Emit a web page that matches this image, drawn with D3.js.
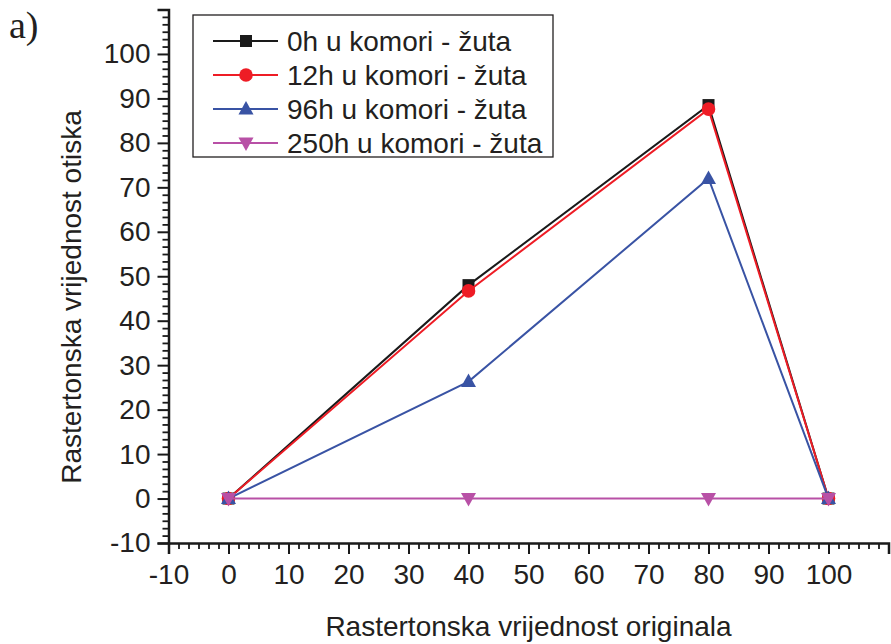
<!DOCTYPE html>
<html><head><meta charset="utf-8">
<script src="https://cdn.jsdelivr.net/npm/d3@7"></script>
<style>
html,body{margin:0;padding:0;background:#fff;}
svg{display:block;font-family:"Liberation Sans",Arial,sans-serif;}
</style></head>
<body>
<svg id="c" width="891" height="644"></svg>
<script>
const xValues = [0, 40, 80, 100];
const series0h = [0, 48, 88.5, 0];
const series12h = [0, 46.7, 87.6, 0];
const series96h = [0, 26.3, 72, 0];
const series250h = [0, 0, 0, 0];
const seriesNames = ["0h u komori - žuta", "12h u komori - žuta", "96h u komori - žuta", "250h u komori - žuta"];
const seriesColors = ["#1a1a1a", "#ee1c25", "#3953a4", "#b850a6"];
const seriesSymbols = ["square", "circle", "triangle", "triangleDown"];
const xTicks = [-10, 0, 10, 20, 30, 40, 50, 60, 70, 80, 90, 100];
const yTicks = [-10, 0, 10, 20, 30, 40, 50, 60, 70, 80, 90, 100];
const xTitle = "Rastertonska vrijednost originala";
const yTitle = "Rastertonska vrijednost otiska";
const panelLabel = "a)";

const allSeries = [series0h, series12h, series96h, series250h];
const svg = d3.select("#c");
const x = d3.scaleLinear().domain([-10, 110]).range([168.5, 888.5]);
const y = d3.scaleLinear().domain([-10, 110]).range([543, 9.5]);

// minor ticks (5 per major interval)
const minorX = [], minorY = [];
for (let v = -10; v < 110; v += 10) for (let k = 1; k <= 5; k++) { minorX.push(v + k * 10 / 6); minorY.push(v + k * 10 / 6); }

const axisColor = "#1a1a1a";
// X axis
const gx = svg.append("g").attr("transform", `translate(0,${y(-10)})`);
gx.call(d3.axisBottom(x).tickValues(minorX).tickSize(6).tickFormat(""));
gx.selectAll(".tick line").attr("stroke-width", 1.8).attr("stroke", axisColor);
gx.select(".domain").remove();
const gx2 = svg.append("g").attr("transform", `translate(0,${y(-10)})`);
gx2.call(d3.axisBottom(x).tickValues(xTicks).tickSize(11).tickPadding(10).tickFormat(d => d));
gx2.selectAll(".tick line").attr("stroke-width", 2).attr("stroke", axisColor);
gx2.selectAll(".tick text").attr("font-size", 28).attr("fill", "#231f20").attr("font-family", "Liberation Sans, Arial, sans-serif");
gx2.select(".domain").attr("stroke-width", 2.5).attr("stroke", axisColor);

// Y axis
const gy = svg.append("g").attr("transform", `translate(${x(-10)},0)`);
gy.call(d3.axisLeft(y).tickValues(minorY).tickSize(6).tickFormat(""));
gy.selectAll(".tick line").attr("stroke-width", 1.8).attr("stroke", axisColor);
gy.select(".domain").remove();
const gy2 = svg.append("g").attr("transform", `translate(${x(-10)},0)`);
gy2.call(d3.axisLeft(y).tickValues(yTicks).tickSize(11).tickPadding(7).tickFormat(d => d));
gy2.selectAll(".tick line").attr("stroke-width", 2).attr("stroke", axisColor);
gy2.selectAll(".tick text").attr("font-size", 28).attr("fill", "#231f20").attr("font-family", "Liberation Sans, Arial, sans-serif");
gy2.select(".domain").attr("stroke-width", 2.5).attr("stroke", axisColor);

// symbols
const symMap = {
  square: (g, cx, cy, c) => g.append("rect").attr("x", cx - 6).attr("y", cy - 6).attr("width", 12).attr("height", 12).attr("fill", c),
  circle: (g, cx, cy, c) => g.append("circle").attr("cx", cx).attr("cy", cy).attr("r", 6.8).attr("fill", c),
  triangle: (g, cx, cy, c) => g.append("path").attr("d", `M${cx},${cy - 8}L${cx + 7.5},${cy + 5.5}L${cx - 7.5},${cy + 5.5}Z`).attr("fill", c),
  triangleDown: (g, cx, cy, c) => g.append("path").attr("d", `M${cx},${cy + 8}L${cx + 7.5},${cy - 5.5}L${cx - 7.5},${cy - 5.5}Z`).attr("fill", c)
};

const line = d3.line().x((d, i) => x(xValues[i])).y(d => y(d));
allSeries.forEach((s, si) => {
  const g = svg.append("g");
  g.append("path").attr("d", line(s)).attr("fill", "none").attr("stroke", seriesColors[si]).attr("stroke-width", 2);
  s.forEach((v, i) => symMap[seriesSymbols[si]](g, x(xValues[i]), y(v), seriesColors[si]));
});

// legend
const lg = svg.append("g");
lg.append("rect").attr("x", 193).attr("y", 15).attr("width", 360).attr("height", 142)
  .attr("fill", "#fff").attr("stroke", "#231f20").attr("stroke-width", 1.3);
seriesNames.forEach((n, i) => {
  const cy = 41 + 34 * i;
  lg.append("line").attr("x1", 213).attr("x2", 278).attr("y1", cy).attr("y2", cy)
    .attr("stroke", seriesColors[i]).attr("stroke-width", 2);
  symMap[seriesSymbols[i]](lg, 246, cy, seriesColors[i]);
  lg.append("text").attr("x", 287).attr("y", cy + 10).attr("font-size", 28).attr("fill", "#231f20").text(n);
});

// titles
svg.append("text").attr("x", x(50)).attr("y", 636).attr("text-anchor", "middle")
  .attr("font-size", 28).attr("fill", "#231f20").text(xTitle);
svg.append("text").attr("transform", "translate(81,297) rotate(-90)").attr("text-anchor", "middle")
  .attr("font-size", 28).attr("fill", "#231f20").text(yTitle);
svg.append("text").attr("x", 9).attr("y", 38).attr("font-family", "Liberation Serif, Times New Roman, serif")
  .attr("font-size", 38).attr("fill", "#231f20").text(panelLabel);
</script>
</body></html>
